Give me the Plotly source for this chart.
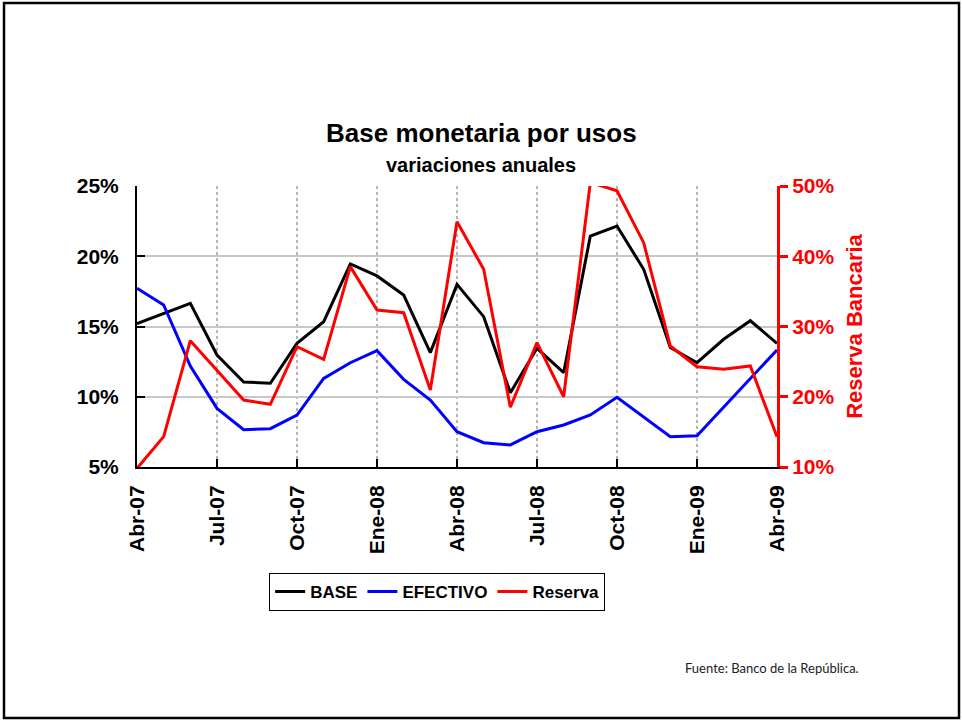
import plotly.graph_objects as go

months = ["Abr-07", "May-07", "Jun-07", "Jul-07", "Ago-07", "Sep-07", "Oct-07", "Nov-07", "Dic-07",
          "Ene-08", "Feb-08", "Mar-08", "Abr-08", "May-08", "Jun-08", "Jul-08", "Ago-08", "Sep-08",
          "Oct-08", "Nov-08", "Dic-08", "Ene-09", "Feb-09", "Mar-09", "Abr-09"]
tick_labels = ["Abr-07", "Jul-07", "Oct-07", "Ene-08", "Abr-08", "Jul-08", "Oct-08", "Ene-09", "Abr-09"]

base = [15.2, 15.9, 16.65, 12.97, 11.05, 10.96, 13.8, 15.34, 19.45, 18.6, 17.24, 13.14, 18.0,
        15.7, 10.29, 13.45, 11.71, 21.44, 22.15, 19.07, 13.5, 12.42, 14.09, 15.41, 13.8]
efectivo = [17.72, 16.53, 12.19, 9.17, 7.66, 7.73, 8.7, 11.31, 12.42, 13.28, 11.24, 9.77, 7.51,
            6.73, 6.57, 7.51, 7.99, 8.7, 9.96, 8.54, 7.16, 7.23, 9.29, 11.31, 13.33]
reserva = [9.8, 14.32, 27.98, 23.7, 19.54, 18.92, 27.13, 25.33, 38.52, 32.35, 31.97, 20.96, 44.92,
           38.14, 18.5, 27.7, 20.0, 50.5, 49.33, 41.93, 27.22, 24.28, 23.9, 24.38, 14.32]

FONT = "Liberation Sans, Arial, sans-serif"

fig = go.Figure()
fig.add_trace(go.Scatter(x=months, y=base, name="BASE", mode="lines",
                         line=dict(color="black", width=3)))
fig.add_trace(go.Scatter(x=months, y=efectivo, name="EFECTIVO", mode="lines",
                         line=dict(color="#0000ff", width=3)))
fig.add_trace(go.Scatter(x=months, y=reserva, name="Reserva", mode="lines", yaxis="y2",
                         line=dict(color="#ff0000", width=3)))

fig.update_layout(
    width=962, height=722,
    margin=dict(l=137, r=185, t=186, b=255),
    paper_bgcolor="white", plot_bgcolor="white",
    font=dict(family=FONT, color="black"),
    showlegend=True,
    legend=dict(orientation="h", x=0.469, y=-0.445, xanchor="center", yanchor="middle",
                bordercolor="black", borderwidth=1, bgcolor="white",
                font=dict(family=FONT, size=17, weight="bold", color="black"),
                itemwidth=30, tracegroupgap=0),
    xaxis=dict(type="category", range=[0, 24], tickmode="array", tickvals=tick_labels,
               ticktext=tick_labels, tickangle=-90,
               tickfont=dict(family=FONT, size=21, weight="bold", color="black"),
               showline=True, linecolor="black", linewidth=2,
               ticks="inside", ticklen=8, tickwidth=2, tickcolor="black",
               showgrid=True, gridcolor="#b4b4b4", gridwidth=1.5, griddash="dot",
               ticklabelstandoff=8),
    yaxis=dict(range=[5, 25], dtick=5, ticksuffix="%",
               tickfont=dict(family=FONT, size=21, weight="bold", color="black"),
               showline=True, linecolor="black", linewidth=2,
               ticks="inside", ticklen=8, tickwidth=2, tickcolor="black",
               showgrid=True, gridcolor="#c8c8c8", gridwidth=1.5, zeroline=False,
               ticklabelstandoff=12),
    yaxis2=dict(range=[10, 50], dtick=10, ticksuffix="%", overlaying="y", side="right",
                tickfont=dict(family=FONT, size=21, weight="bold", color="#ff0000"),
                showline=True, linecolor="#ff0000", linewidth=3,
                ticks="outside", ticklen=8, tickwidth=3, tickcolor="#ff0000",
                showgrid=False, zeroline=False,
                title=dict(text="Reserva Bancaria", standoff=14,
                           font=dict(family=FONT, size=22, weight="bold", color="#ff0000"))),
)

fig.add_annotation(text="Base monetaria por usos", xref="paper", yref="paper",
                   x=0.5375, y=(467 - 133) / 281, xanchor="center", yanchor="middle",
                   showarrow=False, font=dict(family=FONT, size=26, weight="bold", color="black"))
fig.add_annotation(text="variaciones anuales", xref="paper", yref="paper",
                   x=0.5375, y=(467 - 165) / 281, xanchor="center", yanchor="middle",
                   showarrow=False, font=dict(family=FONT, size=20, weight="bold", color="black"))
fig.add_annotation(text="Fuente: Banco de la República.", xref="paper", yref="paper",
                   x=(683 - 137) / 640, y=(467 - 668) / 281, xanchor="left", yanchor="middle",
                   showarrow=False, font=dict(family="Lato, sans-serif", size=13, color="#222222"))

fig.add_shape(type="rect", xref="paper", yref="paper",
              x0=(4 - 137) / 640, x1=(959 - 137) / 640,
              y0=(467 - 718) / 281, y1=(467 - 3) / 281,
              line=dict(color="black", width=2.5), fillcolor="rgba(0,0,0,0)", layer="below")

fig.write_html("out.html", config={"displayModeBar": False},
               post_script="document.body.style.margin='0';")
